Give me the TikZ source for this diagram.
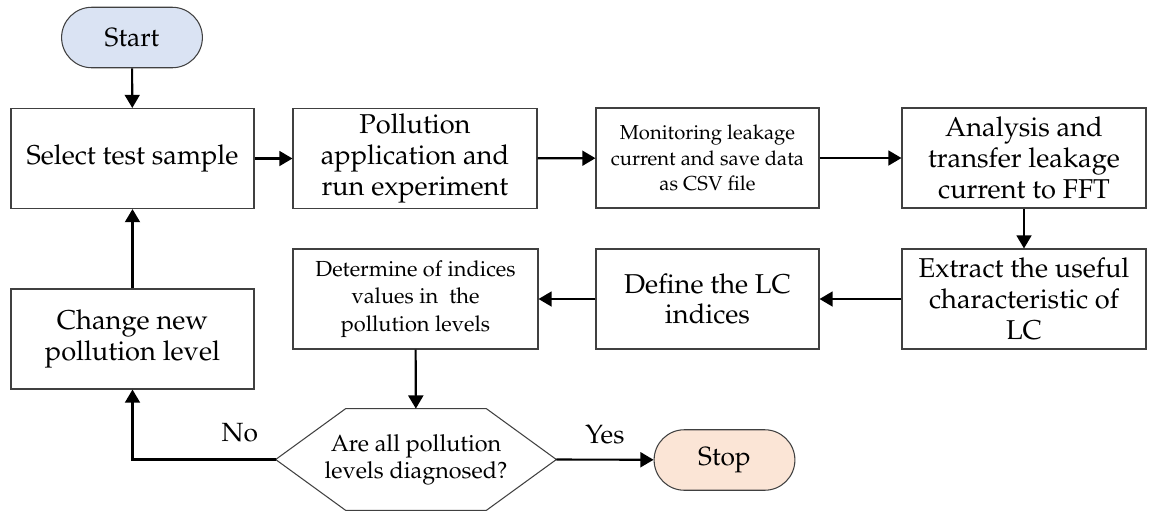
\documentclass[tikz,border=0pt]{standalone}
\usepackage[T1]{fontenc}
\usepackage{mathpazo}
\usepackage{xcolor}
\usepackage{tikz}
\usetikzlibrary{arrows.meta}
\usetikzlibrary{shapes,arrows}
\definecolor{startblue}{RGB}{218,227,243}
\definecolor{stoppeach}{RGB}{251,229,214}
\tikzstyle{arrow} = [line width=1.2pt,-{Triangle[length=7.5pt,width=8.5pt]}]
\tikzstyle{outline} = [draw=black!75, line width=0.6pt]
\tikzstyle{block} = [rectangle, outline, align=center, minimum width=4.86cm, minimum height=2cm, font=\fontsize{15.5}{17.5}\selectfont]
\tikzstyle{smallblock} = [block, font=\fontsize{11.5}{14.5}\selectfont]
\tikzstyle{terminal} = [rounded rectangle, outline, minimum width=3.05cm, minimum height=1.21cm, font=\fontsize{15}{17}\selectfont]
\tikzstyle{decision} = [rectangle, inner sep=0pt, minimum width=5.6cm, minimum height=2.02cm, align=center, font=\fontsize{13.3}{15.5}\selectfont]
\tikzstyle{answer} = [font=\fontsize{15}{17}\selectfont]

\begin{document}
\begin{tikzpicture}
    \useasboundingbox (0,0) rectangle (23,-10.24);

    \node[terminal, fill=startblue] (start) at (2.64,-0.75) {Start};
    \node[block] (select) at (2.65,-3.17) {Select test sample};
    \node[block, minimum width=4.88cm] (pollute) at (8.30,-3.17) {Pollution\\ application and\\ run experiment};
    \node[smallblock, minimum width=4.46cm] (monitor) at (14.15,-3.16) {Monitoring leakage\\ current and save data\\ as CSV file};
    \node[block, minimum width=4.88cm] (analyse) at (20.48,-3.16) {Analysis and\\ transfer leakage\\ current to FFT};
    \node[block, minimum width=4.88cm] (extract) at (20.48,-5.98) {Extract the useful\\ characteristic of\\ LC};
    \node[block, minimum width=4.46cm] (define) at (14.15,-5.98) {Define the LC\\ indices};
    \node[smallblock, minimum width=4.9cm, font=\fontsize{12.4}{15.5}\selectfont] (determine) at (8.31,-5.98) {Determine of indices\\ values in \ the\\ pollution levels};
    \node[block] (change) at (2.65,-6.78) {Change new\\ pollution level};
    \node[decision] (decide) at (8.32,-9.19) {Are all pollution\\ levels diagnosed?};
    \node[terminal, fill=stoppeach] (stop) at (14.49,-9.2) {Stop};

    % hexagon round the question
    \draw[outline] (decide.west) -- ([xshift=1.4cm]decide.north west) -- ([xshift=-1.4cm]decide.north east)
        -- (decide.east) -- ([xshift=-1.4cm]decide.south east) -- ([xshift=1.4cm]decide.south west) -- cycle;

    \draw[arrow] (start) -- (select);
    \draw[arrow] (select) -- (pollute);
    \draw[arrow] (pollute) -- (monitor);
    \draw[arrow] (monitor) -- (analyse);
    \draw[arrow] (analyse) -- (extract);
    \draw[arrow] (extract) -- (define);
    \draw[arrow] (define) -- (determine);
    \draw[arrow] (determine) -- (decide);
    \draw[arrow] (decide.east) -- node[answer, above=5pt] {Yes} (stop);
    \draw[arrow] (decide.west) -| node[answer, pos=0.125, above=6pt] {No} (change);
    \draw[arrow] (change) -- (select);

\end{tikzpicture}
\end{document}
